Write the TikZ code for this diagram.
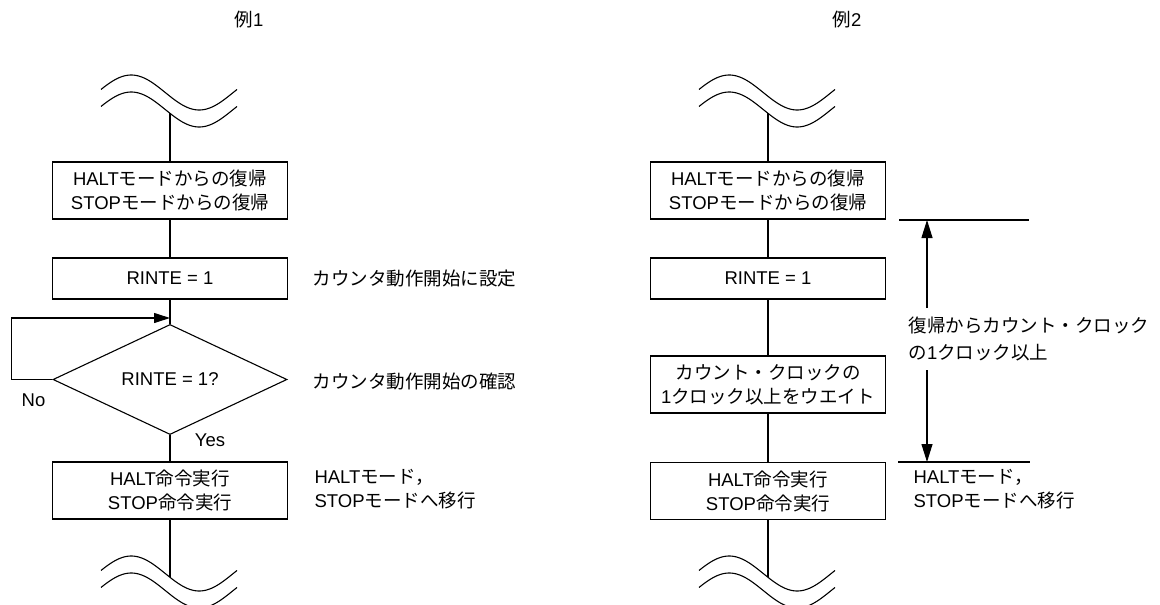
\documentclass[tikz,border=0pt]{standalone}
\usepackage{fontspec}
\setmainfont{Liberation Sans}
\newfontfamily\jp{Noto Sans CJK JP}
\usetikzlibrary{shapes.geometric,arrows.meta}
\begin{document}
\begin{tikzpicture}[x=1pt,y=-1pt, line width=1.1pt,
  every node/.style={font=\fontsize{18.5}{24}\selectfont},
  box/.style={draw, minimum width=235pt, inner sep=2pt, align=center},
  tall/.style={box, minimum height=57pt},
  short/.style={box, minimum height=41pt},
  dec/.style={draw, diamond, minimum width=234pt, minimum height=81pt, inner sep=0pt},
  lbl/.style={anchor=west, inner sep=0pt, align=left},
  tip/.style={-{Triangle[length=16pt,width=10pt]}},
  bigtip/.style={-{Triangle[length=18pt,width=11pt]}},
  wavestyle/.style={line width=1.1pt}]
\path[use as bounding box] (0,0) rectangle (1160,605);

\newcommand\drawwavepair[2]{%
  \draw[wavestyle] plot[domain=10:370, samples=70, smooth, variable=\t]
    ({#1+(\t-10)/360*136}, {#2-17.5*sin(\t)});
  \draw[wavestyle] plot[domain=10:370, samples=70, smooth, variable=\t]
    ({#1+(\t-10)/360*136}, {#2+17-17.5*sin(\t)});}

% titles
\node (t1) at (249,20) {\jp 例\rmfamily 1};
\node (t2) at (847,20) {\jp 例\rmfamily 2};

% ---------------- Example 1 ----------------
\drawwavepair{101}{92.5}
\drawwavepair{101}{573.5}
\coordinate (w1) at (170,113);
\coordinate (w2) at (170,577);

\node[tall]  (a1) at (170,190.5) {HALT{\jp モードからの復帰}\\STOP{\jp モードからの復帰}};
\node[short] (b1) at (170,278.5) {RINTE = 1};
\node[dec]   (d1) at (170,379.5) {RINTE = 1?};
\node[tall]  (e1) at (170,490.5) {HALT{\jp 命令実行}\\STOP{\jp 命令実行}};

\draw (w1) -- (a1);
\draw (a1) -- (b1);
\draw (b1) -- (d1);
\draw (d1) -- (e1);
\draw (e1) -- (w2);

\coordinate (loopin) at (170,318);
\draw[tip] (d1.west) -- ++(-41,0) |- (loopin);

\node (no)  at (33.5,400) {No};
\node (yes) at (210,440) {Yes};

\node[lbl] (l1) at (312,279) {\jp カウンタ動作開始に設定};
\node[lbl] (l2) at (312,382) {\jp カウンタ動作開始の確認};
\node[lbl] (l3) at (314,489) {HALT{\jp モード，}\\STOP{\jp モードへ移行}};

% ---------------- Example 2 ----------------
\drawwavepair{699}{92.5}
\drawwavepair{699}{573.5}
\coordinate (w3) at (768,113);
\coordinate (w4) at (768,577);

\node[tall]  (a2) at (768,190.5) {HALT{\jp モードからの復帰}\\STOP{\jp モードからの復帰}};
\node[short] (b2) at (768,278.5) {RINTE = 1};
\node[tall]  (c2) at (768,384.5) {{\jp カウント・クロックの}\\1{\jp クロック以上をウエイト}};
\node[tall]  (e2) at (768,491) {HALT{\jp 命令実行}\\STOP{\jp 命令実行}};

\draw (w3) -- (a2);
\draw (a2) -- (b2);
\draw (b2) -- (c2);
\draw (c2) -- (e2);
\draw (e2) -- (w4);

\coordinate (h1l) at (899,220);
\coordinate (h1r) at (1029,220);
\coordinate (h2l) at (898,462);
\coordinate (h2r) at (1030,462);
\draw (h1l) -- (h1r);
\draw (h2l) -- (h2r);

\coordinate (at) at (927,220);
\coordinate (ab) at (927,462);
\coordinate (gt) at (927,308);
\coordinate (gb) at (927,370);
\draw[bigtip] (gt) -- (at);
\draw[bigtip] (gb) -- (ab);

\node[lbl, font=\fontsize{18.5}{27}\selectfont] (l4) at (908,338.5)
  {{\jp 復帰からカウント・クロック}\\{\jp の}1{\jp クロック以上}};
\node[lbl] (l5) at (913,489) {HALT{\jp モード，}\\STOP{\jp モードへ移行}};
\end{tikzpicture}
\end{document}
